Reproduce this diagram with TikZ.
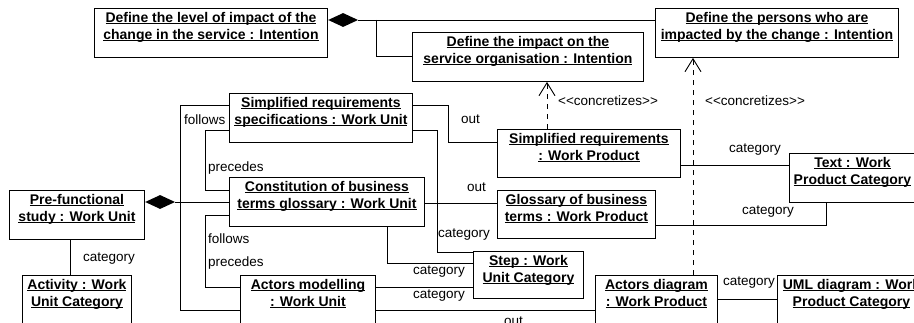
\documentclass[tikz,border=0pt]{standalone}
\usepackage{fontspec}
\setmainfont{Liberation Sans}
\usepackage{tikz}
\usetikzlibrary{positioning,arrows.meta,shapes.geometric,calc}

% underlined title line and the box around a title
\newcommand{\uln}[1]{\leavevmode\setbox0=\hbox{#1}\rlap{\rule[-1.9pt]{\wd0}{0.9pt}}\box0}
\newcommand{\objbox}[3]{\parbox[c][#2pt][t]{#1pt}{\centering\rule{0pt}{14pt}#3}}

\begin{document}
\begin{tikzpicture}[x=1pt,y=-1pt,
	obj/.style={draw,line width=0.9pt,anchor=north west,inner sep=0pt,font=\fontsize{14}{17}\selectfont\bfseries},
	lbl/.style={anchor=west,inner sep=0pt,font=\fontsize{13.5}{16}\selectfont},
	link/.style={line width=0.9pt},
	concr/.style={line width=0.9pt,dash pattern=on 5pt off 5pt,-{Straight Barb[length=13pt,width=16pt]}},
	comp/.style={diamond,fill,inner sep=0pt,minimum width=30pt,minimum height=14pt,anchor=west}]
	
	\useasboundingbox (0,0) rectangle (914,323);
	\clip (0,0) rectangle (914,323);
	
	% draw intentions
	\node[obj] (lvl) at (94,8) {\objbox{233}{49}{\uln{Define the level of impact of the}\\\uln{change in the service : Intention}}};
	\node[obj] (imp) at (412,32) {\objbox{231}{49}{\uln{Define the impact on the}\\\uln{service organisation : Intention}}};
	\node[obj] (pers) at (655,8) {\objbox{243}{49}{\uln{Define the persons who are}\\\uln{impacted by the change : Intention}}};
	
	% draw work units
	\node[obj] (simp) at (229,93) {\objbox{183}{49}{\uln{Simplified requirements}\\\uln{specifications : Work Unit}}};
	\node[obj] (const) at (229,177) {\objbox{195}{49}{\uln{Constitution of business}\\\uln{terms glossary : Work Unit}}};
	\node[obj] (pre) at (9,190) {\objbox{135}{49}{\uln{Pre-functional}\\\uln{study : Work Unit}}};
	\node[obj] (amod) at (240,275) {\objbox{135}{49}{\uln{Actors modelling}\\\uln{: Work Unit}}};
	
	% draw work products
	\node[obj] (swp) at (497,129) {\objbox{183}{48}{\uln{Simplified requirements}\\\uln{: Work Product}}};
	\node[obj] (glos) at (497,190) {\objbox{158}{48}{\uln{Glossary of business}\\\uln{terms : Work Product}}};
	\node[obj] (adia) at (595,275) {\objbox{122}{49}{\uln{Actors diagram}\\\uln{: Work Product}}};
	
	% draw categories
	\node[obj] (act) at (22,275) {\objbox{109}{49}{\uln{Activity : Work}\\\uln{Unit Category}}};
	\node[obj] (step) at (473,251) {\objbox{110}{47}{\uln{Step : Work}\\\uln{Unit Category}}};
	\node[obj] (txtc) at (789,153) {\objbox{126}{49}{\uln{Text : Work}\\\uln{Product Category}}};
	\node[obj] (uml) at (777,275) {\objbox{148}{49}{\uln{UML diagram : Work}\\\uln{Product Category}}};
	
	%%% diamonds
	\node[comp] (lvlD) at ($(lvl.north east)+(0,12)$) {};
	\draw[link] (lvlD.east) -- (lvlD.east -| pers.west);
	\draw[link] ($(lvlD.east)+(18,0)$) |- (imp.west);
	\node[comp] (preD) at ($(pre.north east)+(0,12)$) {};
	\draw[link] (preD.east) -- (preD.east -| const.west);
	
	%%% follows / precedes
	\draw[link] ($(simp.north west)+(0,12)$) -- ++(-49,0) |- ($(amod.north west)+(0,35)$);
	\draw[link] ($(simp.north west)+(0,37)$) -- ++(-24,0) |- ($(const.north west)+(0,13)$);
	\draw[link] ($(const.north west)+(0,38)$) -- ++(-24,0) |- ($(amod.north west)+(0,12)$);
	\node[lbl] (fol1) at (184,120) {follows};
	\node[lbl] (pre1) at (208,168) {precedes};
	\node[lbl] (fol2) at (208,239) {follows};
	\node[lbl] (pre2) at (208,263) {precedes};
	
	%%% out
	\draw[link] ($(simp.north east)+(0,12)$) -- ++(36,0) |- ($(swp.north west)+(0,13)$);
	\draw[link] ($(const.north east)+(0,26)$) -- ($(glos.north west)+(0,13)$);
	\draw[link] ($(amod.north east)+(0,35)$) -- ($(adia.north west)+(0,35)$);
	\node[lbl] (out1) at (461,119) {out};
	\node[lbl] (out2) at (467,187) {out};
	\node[lbl] (out3) at (504,321) {out};
	
	%%% category
	\draw[link] ($(simp.north east)+(0,37)$) -- ++(25,0) |- ($(step.north west)+(0,1)$);
	\draw[link] ($(const.south west)+(158,0)$) |- ($(step.north west)+(0,12)$);
	\draw[link] ($(amod.north east)+(0,12)$) -- ($(step.north west)+(0,36)$);
	\draw[link] ($(pre.south west)+(61,0)$) -- ($(act.north west)+(48,0)$);
	\draw[link] ($(swp.north east)+(0,36)$) -- ($(txtc.north west)+(0,12)$);
	\draw[link] ($(glos.north east)+(0,35)$) -| ($(txtc.south west)+(37,0)$);
	\draw[link] ($(adia.north east)+(0,24)$) -- ($(uml.north west)+(0,24)$);
	\node[lbl] (cat1) at (438,235) {category};
	\node[lbl] (cat2) at (413,272) {category};
	\node[lbl] (cat3) at (413,296) {category};
	\node[lbl] (cat4) at (83,259) {category};
	\node[lbl] (cat5) at (729,150) {category};
	\node[lbl] (cat6) at (742,212) {category};
	\node[lbl] (cat7) at (723,283) {category};
	
	%%% concretizes
	\draw[concr] ($(swp.north west)+(50,0)$) -- ($(imp.south west)+(135,0)$);
	\draw[concr] ($(adia.north west)+(98,0)$) -- ($(pers.south west)+(38,0)$);
	\node[lbl] (conc1) at (558,101) {<\kern0pt<concretizes>\kern0pt>};
	\node[lbl] (conc2) at (705,101) {<\kern0pt<concretizes>\kern0pt>};
	
\end{tikzpicture}
\end{document}
